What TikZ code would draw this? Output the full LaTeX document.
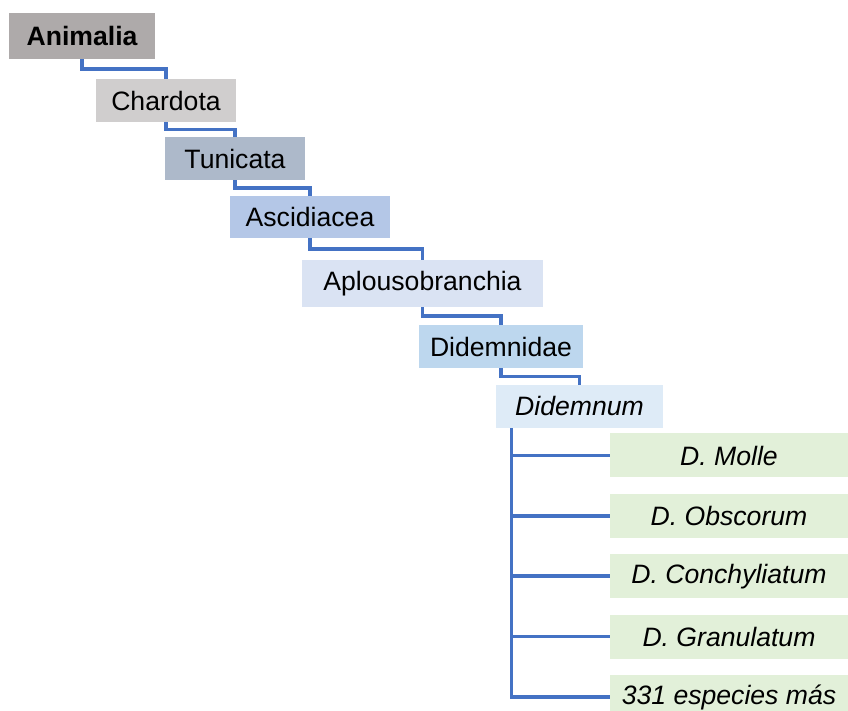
\documentclass[tikz,border=0pt]{standalone}
\usepackage{fontspec}
\setmainfont{Liberation Sans}
\usetikzlibrary{positioning,calc}
\definecolor{linkblue}{HTML}{4472C4}
\definecolor{kingdom}{HTML}{AEAAAA}
\definecolor{phylum}{HTML}{D0CECE}
\definecolor{subphylum}{HTML}{ADB9CA}
\definecolor{klass}{HTML}{B4C7E7}
\definecolor{order}{HTML}{DAE3F3}
\definecolor{family}{HTML}{BDD7EE}
\definecolor{genus}{HTML}{DEEBF7}
\definecolor{leaf}{HTML}{E2F0D9}

\begin{document}
\begin{tikzpicture}[x=0.5pt,y=-0.5pt,
    taxon/.style={inner sep=0pt,minimum height=21.5pt,font=\fontsize{13.3}{15}\selectfont},
    species/.style={taxon,fill=leaf,minimum width=119pt,minimum height=22pt,
                    font=\fontsize{13.3}{15}\selectfont\itshape},
    link/.style={linkblue,line width=1.8pt}]
  \useasboundingbox (0,0) rectangle (848,711);
  \node[taxon,fill=kingdom,minimum width=73pt,minimum height=23pt,
        font=\fontsize{13.3}{15}\selectfont\bfseries] (anim) at (82,36) {Animalia};
  \node[taxon,fill=phylum,minimum width=70pt] (chard) at (166,100.5) {Chardota};
  \node[taxon,fill=subphylum,minimum width=70pt] (tuni) at (235,158.5) {Tunicata};
  \node[taxon,fill=klass,minimum width=80pt,minimum height=21pt] (ascid) at (310,217) {Ascidiacea};
  \node[taxon,fill=order,minimum width=120.5pt,minimum height=23.5pt] (aplou) at (422.5,283.5) {Aplousobranchia};
  \node[taxon,fill=family,minimum width=82pt] (didf) at (501,346.5) {Didemnidae};
  \node[taxon,fill=genus,minimum width=83.5pt,font=\fontsize{13.3}{15}\selectfont\itshape] (didg) at (579.5,406.5) {Didemnum};
  \foreach \t [count=\i] in {D. Molle,D. Obscorum,D. Conchyliatum,D. Granulatum,331 especies más}
    \node[species] (sp\i) at (729,{455.5+60.4*(\i-1)}) {\t};
  % staircase of ranks
  \foreach \a/\b in {anim/chard,chard/tuni,tuni/ascid,ascid/aplou,aplou/didf,didf/didg}
    \draw[link] (\a.south) |- ($(\a.south)!0.5!(\b.north)$) -| (\b.north);
  % species of the genus
  \coordinate (trunk) at ([xshift=8pt]didg.south west);
  \draw[link] (trunk) |- (sp5.west);
  \foreach \i in {1,...,4}
    \draw[link] (trunk |- sp\i.west) -- (sp\i.west);
\end{tikzpicture}
\end{document}
